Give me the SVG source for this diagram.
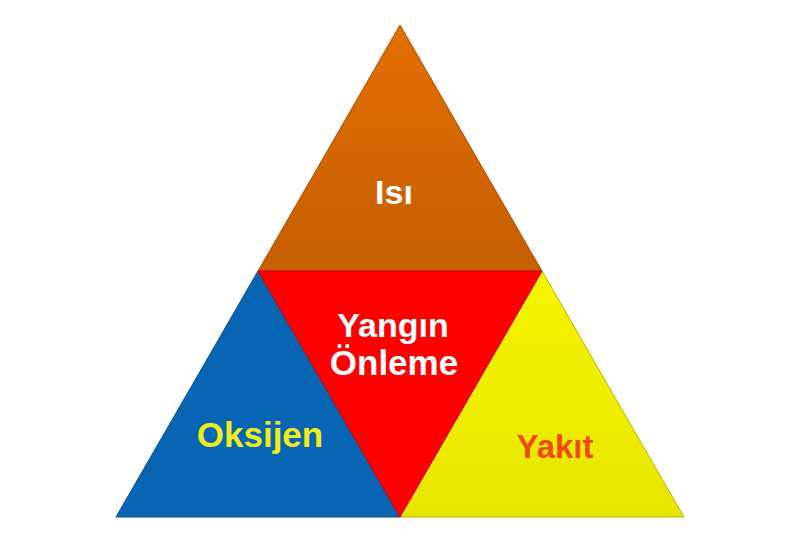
<svg xmlns="http://www.w3.org/2000/svg" width="800" height="533" viewBox="0 0 800 533">
  <defs>
    <linearGradient id="gTop" x1="0" y1="0" x2="0" y2="1">
      <stop offset="0" stop-color="#e36e00"/>
      <stop offset="1" stop-color="#c65e02"/>
    </linearGradient>
    <linearGradient id="gYel" x1="0" y1="0" x2="0" y2="1">
      <stop offset="0" stop-color="#f6f400"/>
      <stop offset="1" stop-color="#e8e600"/>
    </linearGradient>
    <style>
      .lbl { font-family: "Liberation Sans", Arial, sans-serif; font-weight: bold; text-anchor: middle; }
      .part { stroke-width: 1; stroke-linejoin: round; }
    </style>
  </defs>
  <rect width="800" height="533" fill="#ffffff"/>
  <g id="isi">
    <polygon class="part" points="400,25 542,271 258,271" fill="url(#gTop)" stroke="#a85000"/>
    <text class="lbl" x="394" y="204" font-size="34" fill="#ffffff">Isı</text>
  </g>
  <g id="oksijen">
    <polygon class="part" points="258,271 400,517 116,517" fill="#0865b4" stroke="#0a4f8c"/>
    <text class="lbl" x="260" y="447" font-size="35" fill="#f0ec1c">Oksijen</text>
  </g>
  <g id="yakit">
    <polygon class="part" points="542,271 684,517 400,517" fill="url(#gYel)" stroke="#b8b400"/>
    <text class="lbl" x="555" y="458" font-size="33" fill="#f04a10">Yakıt</text>
  </g>
  <g id="yangin-onleme">
    <polygon class="part" points="258,271 542,271 400,517" fill="#fe0000" stroke="#c80000"/>
    <text class="lbl" x="393" y="337" font-size="34" fill="#ffffff">Yangın</text>
    <text class="lbl" x="394" y="375" font-size="35" fill="#ffffff">Önleme</text>
  </g>
  <g id="connectors"></g>
</svg>
